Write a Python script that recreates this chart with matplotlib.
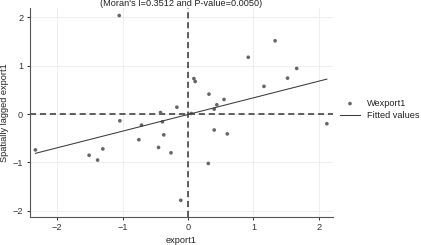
import matplotlib
matplotlib.use("Agg")
import matplotlib.pyplot as plt
import numpy as np

# Data
export1 = [-1.05, 1.33, 0.92, 1.66, 1.52, 1.16, 0.09, 0.11, 0.32, 0.55, 0.44, 0.40,
           -0.17, -0.42, 0.05, -1.04, -0.71, -0.39, 2.12, 0.40, 0.60, -0.37, -0.75,
           -0.45, -0.26, -2.33, -1.30, -1.51, -1.38, 0.31, -0.11]
wexport1 = [2.03, 1.51, 1.17, 0.94, 0.74, 0.57, 0.73, 0.67, 0.41, 0.30, 0.19, 0.10,
            0.14, 0.03, 0.01, -0.14, -0.23, -0.16, -0.20, -0.33, -0.41, -0.43, -0.53,
            -0.69, -0.80, -0.74, -0.72, -0.85, -0.95, -1.02, -1.78]
fit_slope = 0.344
fit_intercept = -0.01
xticks = [-2, -1, 0, 1, 2]
yticks = [-2, -1, 0, 1, 2]
title = "(Moran's I=0.3512 and P-value=0.0050)"

plt.rcParams['font.family'] = ['Liberation Sans', 'DejaVu Sans']
fs = 6.6

fig = plt.figure(figsize=(4.21, 2.45), dpi=100)
ax = fig.add_axes([29.5/421, 1-217/245, (333-29.5)/421, (217-8)/245])

ax.set_xlim(-2.42, 2.214)
ax.set_ylim(-2.124, 2.186)

ax.set_xticks(xticks)
ax.set_yticks(yticks)
ax.grid(True, color='#ebebeb', linewidth=0.6)
ax.set_axisbelow(True)

for s in ['top', 'right']:
    ax.spines[s].set_visible(False)
for s in ['left', 'bottom']:
    ax.spines[s].set_color('#555555')
    ax.spines[s].set_linewidth(0.8)
ax.tick_params(direction='out', length=2.5, width=0.7, colors='#333333',
               labelsize=fs, pad=2)

ax.axhline(0, color='#333333', lw=1.1, ls=(0, (4, 2.5)), zorder=2)
ax.axvline(0, color='#333333', lw=1.1, ls=(0, (4, 2.5)), zorder=2)

ax.scatter(export1, wexport1, s=7, color='#666666', edgecolors='none',
           label='Wexport1', zorder=3)
xf = np.array([min(export1), max(export1)])
ax.plot(xf, fit_intercept + fit_slope * xf, color='#3a3a3a', lw=0.75,
        label='Fitted values', zorder=3)

ax.set_xlabel('export1', fontsize=fs, color='#222222', labelpad=3)
ax.set_ylabel('Spatially lagged export1', fontsize=fs, color='#222222')
ax.yaxis.set_label_coords((9.5 - 29.5) / 303.5, 0.5)
fig.text((29.5+333)/2/421, 1-4/245, title, ha='center', va='center',
         fontsize=fs, color='#222222')

fig.legend(loc='upper left', bbox_to_anchor=(340/421, 1-99/245),
           frameon=False, fontsize=fs, borderpad=0, borderaxespad=0,
           handlelength=2.18, handletextpad=0.75, labelspacing=0.35,
           labelcolor='#222222')

fig.savefig('out.png', dpi=100)
